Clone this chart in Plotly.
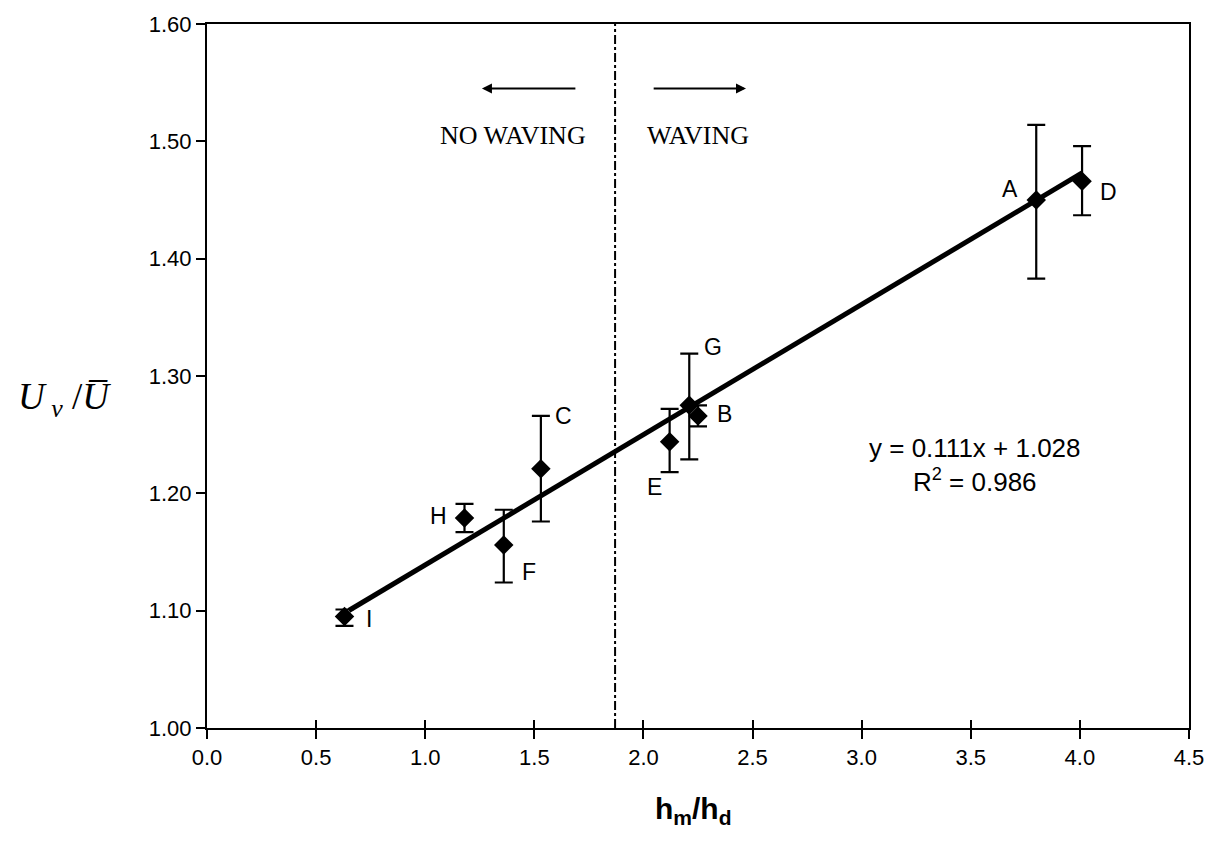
import plotly.graph_objects as go

# Measured points: relative depth h_m/h_d against normalised velocity U_v/U
point_labels = ["I", "H", "F", "C", "E", "G", "B", "A", "D"]
hm_hd = [0.63, 1.18, 1.36, 1.53, 2.12, 2.21, 2.25, 3.80, 4.01]
uv_u = [1.095, 1.179, 1.156, 1.221, 1.244, 1.275, 1.266, 1.450, 1.466]
err_plus = [0.006, 0.012, 0.030, 0.045, 0.028, 0.044, 0.009, 0.064, 0.030]
err_minus = [0.008, 0.012, 0.032, 0.045, 0.026, 0.046, 0.009, 0.067, 0.029]

# label offsets (px) for each point letter
label_dx = [25, -26, 25, 23, -15, 24, 26, -26, 26]
label_dy = [-2, 2, -27, 53, -45, 58, 2, 11, -11]

# Linear fit drawn across the measured range
fit_slope = 0.111
fit_intercept = 1.028
fit_r2 = 0.986
fit_x = [0.65, 4.01]

# Onset of waving
waving_threshold = 1.87

x_ticks = [0.0, 0.5, 1.0, 1.5, 2.0, 2.5, 3.0, 3.5, 4.0, 4.5]
y_ticks = [1.00, 1.10, 1.20, 1.30, 1.40, 1.50, 1.60]

SANS = "Liberation Sans, Arial, Helvetica"
SERIF = "Liberation Serif, Times New Roman, serif"

fig = go.Figure()

# regression line
fig.add_trace(go.Scatter(
    x=fit_x, y=[fit_slope * v + fit_intercept for v in fit_x],
    mode="lines", line=dict(color="black", width=5),
    showlegend=False, hoverinfo="skip"))

# data points with error bars
fig.add_trace(go.Scatter(
    x=hm_hd, y=uv_u, mode="markers",
    marker=dict(symbol="diamond", size=15, color="black"),
    error_y=dict(type="data", array=err_plus, arrayminus=err_minus,
                 color="black", thickness=2.2, width=9, symmetric=False),
    showlegend=False))

# inner half of the crossing x ticks
fig.add_trace(go.Scatter(x=[0], y=[1.0], xaxis="x2", mode="markers",
                         marker=dict(opacity=0), showlegend=False, hoverinfo="skip"))

# waving threshold
fig.add_shape(type="line", x0=waving_threshold, x1=waving_threshold,
              y0=1.0, y1=1.6, xref="x", yref="y",
              line=dict(color="black", width=2, dash="dashdot"))

# point letters
for lab, x, y, dx, dy in zip(point_labels, hm_hd, uv_u, label_dx, label_dy):
    fig.add_annotation(x=x, y=y, xref="x", yref="y", text=lab,
                       showarrow=False, xshift=dx, yshift=dy,
                       font=dict(family=SANS, size=23, color="black"))

# direction arrows
fig.add_annotation(x=1.26, y=1.545, ax=1.695, ay=1.545, xref="x", yref="y",
                   axref="x", ayref="y", text="", showarrow=True,
                   arrowhead=2, arrowsize=1, arrowwidth=2, arrowcolor="black")
fig.add_annotation(x=2.47, y=1.545, ax=2.04, ay=1.545, xref="x", yref="y",
                   axref="x", ayref="y", text="", showarrow=True,
                   arrowhead=2, arrowsize=1, arrowwidth=2, arrowcolor="black")
fig.add_annotation(x=1.40, y=1.505, xref="x", yref="y", text="NO WAVING",
                   showarrow=False, font=dict(family=SERIF, size=26, color="black"))
fig.add_annotation(x=2.25, y=1.505, xref="x", yref="y", text="WAVING",
                   showarrow=False, font=dict(family=SERIF, size=26, color="black"))

# fit equation
fig.add_annotation(x=3.52, y=1.224, xref="x", yref="y",
                   text=f"y = {fit_slope:.3f}x + {fit_intercept:.3f}<br>R<sup>2</sup> = {fit_r2:.3f}",
                   showarrow=False, align="center",
                   font=dict(family=SANS, size=26, color="black"))

# axis titles
fig.add_annotation(x=-0.145, y=0.466, xref="paper", yref="paper",
                   text="<i>U</i><sub> <i>ν</i></sub> /<i>U\u0305</i>",
                   showarrow=False, xanchor="center", yanchor="middle",
                   font=dict(family=SERIF, size=37, color="black"))
fig.add_annotation(x=0.495, y=-0.088, xref="paper", yref="paper",
                   text="<b>h<sub>m</sub>/h<sub>d</sub></b>",
                   showarrow=False, xanchor="center", yanchor="top",
                   font=dict(family=SANS, size=30, color="black"))

fig.update_layout(
    width=1220, height=842,
    margin=dict(l=207, r=31, t=20, b=114),
    paper_bgcolor="white", plot_bgcolor="white",
    xaxis=dict(range=[0, 4.5], tickvals=x_ticks,
               ticktext=[f"{v:.1f}" for v in x_ticks],
               ticks="outside", ticklen=9, tickwidth=1.5, tickcolor="black",
               showline=True, linecolor="black", linewidth=2, mirror=True,
               showgrid=False, zeroline=False,
               tickfont=dict(family=SANS, size=22, color="black")),
    yaxis=dict(range=[1.0, 1.6], tickvals=y_ticks,
               ticktext=[f"{v:.2f}" for v in y_ticks],
               ticks="outside", ticklen=9, tickwidth=1.5, tickcolor="black",
               showline=True, linecolor="black", linewidth=2, mirror=True,
               showgrid=False, zeroline=False,
               tickfont=dict(family=SANS, size=22, color="black")),
    xaxis2=dict(range=[0, 4.5], tickvals=x_ticks, overlaying="x", side="bottom",
                ticks="inside", ticklen=8, tickwidth=1.5, tickcolor="black",
                showticklabels=False, showgrid=False, zeroline=False,
                showline=False),
)

fig.write_html("out.html")
